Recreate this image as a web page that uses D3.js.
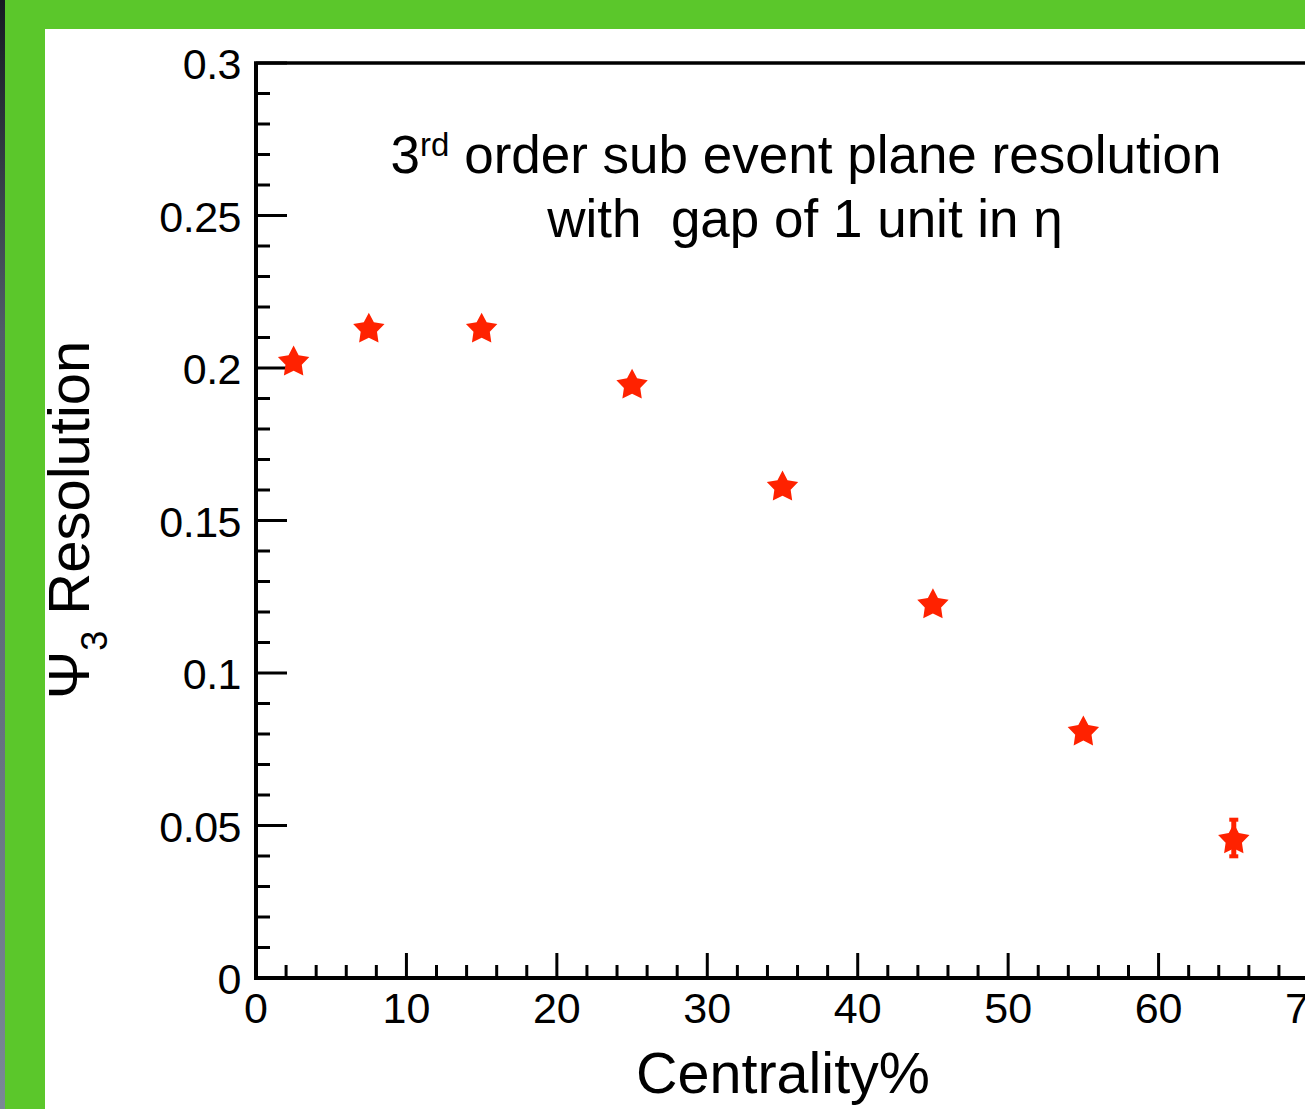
<!DOCTYPE html>
<html><head><meta charset="utf-8">
<script src="https://cdn.jsdelivr.net/npm/d3@7"></script>
<style>html,body{margin:0;padding:0;overflow:hidden;background:#fff}svg{display:block}</style>
</head><body>
<svg id="c" width="1305" height="1109"></svg>
<script>
const centrality = [2.5, 7.5, 15, 25, 35, 45, 55, 65];
const resolution = [0.2026, 0.2134, 0.2134, 0.1950, 0.1616, 0.1230, 0.0813, 0.0459];
const errors = [0, 0, 0, 0, 0, 0, 0, 0.006];
const xTicks = [0, 10, 20, 30, 40, 50, 60, 70];
const yTicks = [0, 0.05, 0.1, 0.15, 0.2, 0.25, 0.3];
const yTickLabels = ["0", "0.05", "0.1", "0.15", "0.2", "0.25", "0.3"];

const svg = d3.select("#c");
const W = 1305, H = 1109;
const font = "Liberation Sans, Arial, sans-serif";

// background frame
const defs = svg.append("defs");
const g1 = defs.append("linearGradient").attr("id","strip").attr("x1",0).attr("y1",0).attr("x2",0).attr("y2",1);
g1.append("stop").attr("offset","0%").attr("stop-color","#161c22");
g1.append("stop").attr("offset","30%").attr("stop-color","#505c68");
g1.append("stop").attr("offset","100%").attr("stop-color","#7a8896");
svg.append("rect").attr("x",0).attr("y",0).attr("width",W).attr("height",H).attr("fill","#5bc72b");
svg.append("rect").attr("x",0).attr("y",0).attr("width",5).attr("height",H).attr("fill","url(#strip)");
svg.append("rect").attr("x",45).attr("y",29).attr("width",W-45).attr("height",H-29).attr("fill","#fff");

const x = d3.scaleLinear().domain([0, 70]).range([256, 1309]);
const y = d3.scaleLinear().domain([0, 0.3]).range([978, 63]);

// minor ticks
const xMinor = d3.range(0, 70.01, 2);
svg.append("g").selectAll("line").data(xMinor).join("line")
  .attr("x1", d => x(d)).attr("x2", d => x(d))
  .attr("y1", y(0)).attr("y2", d => (Math.abs(d % 10) < 1e-9 ? y(0) - 25 : y(0) - 13))
  .attr("stroke", "#000").attr("stroke-width", 3);
const yMinor = d3.range(0, 0.3001, 0.01);
svg.append("g").selectAll("line").data(yMinor).join("line")
  .attr("y1", d => y(d)).attr("y2", d => y(d))
  .attr("x1", x(0)).attr("x2", (d,i) => (i % 5 === 0 ? x(0) + 31 : x(0) + 14))
  .attr("stroke", "#000").attr("stroke-width", 3);

// spines
svg.append("line").attr("x1", x(0)).attr("x2", x(0)).attr("y1", y(0.3)).attr("y2", y(0)+1.5)
  .attr("stroke","#000").attr("stroke-width",4);
svg.append("line").attr("x1", x(0)-2).attr("x2", W).attr("y1", y(0)).attr("y2", y(0))
  .attr("stroke","#000").attr("stroke-width",4);
svg.append("line").attr("x1", x(0)-2).attr("x2", W).attr("y1", y(0.3)).attr("y2", y(0.3))
  .attr("stroke","#000").attr("stroke-width",3.5);

// tick labels
svg.append("g").selectAll("text").data(xTicks).join("text")
  .attr("x", d => x(d)).attr("y", 1023)
  .attr("text-anchor","middle").attr("font-family",font).attr("font-size",43)
  .text(d => d);
svg.append("g").selectAll("text").data(yTicks).join("text")
  .attr("x", 241).attr("y", d => y(d) + 16)
  .attr("text-anchor","end").attr("font-family",font).attr("font-size",43)
  .attr("letter-spacing", -0.5)
  .text((d,i) => yTickLabels[i]);

// axis titles
svg.append("text").attr("x", 783).attr("y", 1093)
  .attr("text-anchor","middle").attr("font-family",font).attr("font-size",57.5)
  .text("Centrality%");
const yt = svg.append("text").attr("transform","translate(89,520) rotate(-90)")
  .attr("text-anchor","middle").attr("font-family",font).attr("font-size",58);
yt.append("tspan").text("\u03A8");
yt.append("tspan").attr("font-size",36).attr("dy",18).text("3");
yt.append("tspan").attr("dy",-18).text(" Resolution");

// title
const t1 = svg.append("text").attr("x", 806).attr("y", 173)
  .attr("text-anchor","middle").attr("font-family",font).attr("font-size",53);
t1.append("tspan").text("3");
t1.append("tspan").attr("font-size",33).attr("dy",-17).text("rd");
t1.append("tspan").attr("dy",17).text(" order sub event plane resolution");
svg.append("text").attr("x", 805).attr("y", 237)
  .attr("text-anchor","middle").attr("font-family",font).attr("font-size",53)
  .attr("xml:space","preserve").style("white-space","pre")
  .text("with  gap of 1 unit in \u03B7");

// data
const pts = centrality.map((c,i) => ({c, r: resolution[i], e: errors[i]}));
const red = "#ff2200";
svg.append("g").selectAll("g").data(pts.filter(d => d.e > 0)).join("g").each(function(d){
  const g = d3.select(this);
  g.append("line").attr("x1", x(d.c)).attr("x2", x(d.c)).attr("y1", y(d.r - d.e)).attr("y2", y(d.r + d.e))
    .attr("stroke", red).attr("stroke-width", 5);
  [d.r - d.e, d.r + d.e].forEach(v => g.append("line").attr("x1", x(d.c)-4.5).attr("x2", x(d.c)+4.5)
    .attr("y1", y(v)).attr("y2", y(v)).attr("stroke", red).attr("stroke-width", 4));
});
// fat five-pointed star (inner radius ratio ~0.52)
const fatStar = {
  draw(ctx, size) {
    const R = Math.sqrt(size), ri = R * 0.52;
    for (let i = 0; i < 10; i++) {
      const a = -Math.PI / 2 + i * Math.PI / 5;
      const rr = i % 2 ? ri : R;
      const px = rr * Math.cos(a), py = rr * Math.sin(a);
      if (i === 0) ctx.moveTo(px, py); else ctx.lineTo(px, py);
    }
    ctx.closePath();
  }
};
const star = d3.symbol().type(fatStar).size(16.5 * 16.5);
svg.append("g").selectAll("path").data(pts).join("path")
  .attr("d", star)
  .attr("transform", d => `translate(${x(d.c)},${y(d.r)+2})`)
  .attr("fill", red);
</script>
</body></html>
